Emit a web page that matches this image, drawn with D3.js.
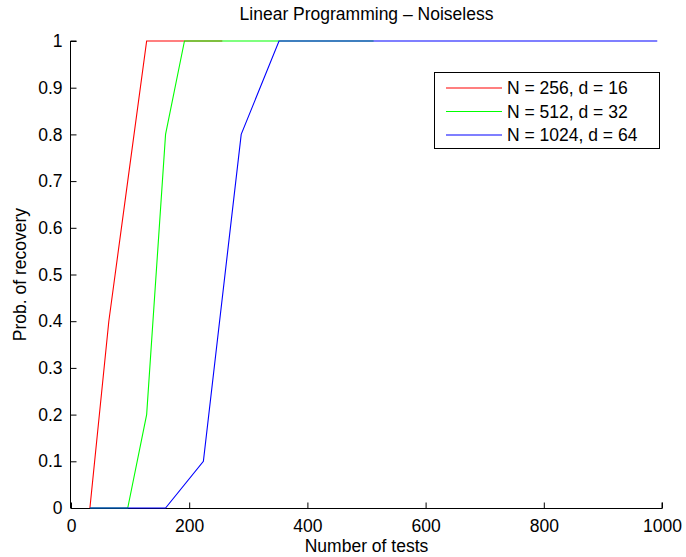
<!DOCTYPE html>
<html>
<head>
<meta charset="utf-8">
<script src="https://cdn.jsdelivr.net/npm/d3@7"></script>
<style>
  html, body { margin: 0; padding: 0; background: #fff; }
  svg { display: block; }
  text { font-family: "Liberation Sans", Arial, Helvetica, sans-serif; fill: #000; }
</style>
</head>
<body>
<svg id="chart" width="686" height="557"></svg>
<script>
// Recovery probability vs. number of tests
const xTicks = [0, 200, 400, 600, 800, 1000];
const yTicks = [0, 0.1, 0.2, 0.3, 0.4, 0.5, 0.6, 0.7, 0.8, 0.9, 1];

const testsA = [32, 64, 96, 128, 160, 192, 224, 256];
const probA  = [0, 0.4, 0.7, 1, 1, 1, 1, 1];

const testsB = [32, 64, 96, 128, 160, 192, 224, 256, 288, 320, 352, 384, 416, 448, 480, 512];
const probB  = [0, 0, 0, 0.2, 0.8, 1, 1, 1, 1, 1, 1, 1, 1, 1, 1, 1];

const testsC = [32, 96, 160, 224, 288, 352, 416, 480, 544, 608, 672, 736, 800, 864, 928, 992];
const probC  = [0, 0, 0, 0.1, 0.8, 1, 1, 1, 1, 1, 1, 1, 1, 1, 1, 1];

const seriesNames = ["N = 256, d = 16", "N = 512, d = 32", "N = 1024, d = 64"];
const seriesColors = ["#ff0000", "#00ff00", "#0000ff"];

const series = [
  { name: seriesNames[0], color: seriesColors[0], x: testsA, y: probA },
  { name: seriesNames[1], color: seriesColors[1], x: testsB, y: probB },
  { name: seriesNames[2], color: seriesColors[2], x: testsC, y: probC }
];

const svg = d3.select("#chart");
const plotL = 71, plotR = 662, plotT = 41, plotB = 508;
const fs = 17.5;

const x = d3.scaleLinear().domain([0, 1000]).range([plotL, plotR]);
const y = d3.scaleLinear().domain([0, 1]).range([plotB, plotT]);

// Axes with inward ticks (no box)
const xAxis = d3.axisBottom(x).tickValues(xTicks).tickSize(-6).tickPadding(11)
  .tickFormat(d3.format("d"));
const yAxis = d3.axisLeft(y).tickValues(yTicks).tickSize(-6).tickPadding(8)
  .tickFormat(d => d3.format("")(d));

const gx = svg.append("g").attr("transform", `translate(0,${plotB + 0.5})`).call(xAxis);
const gy = svg.append("g").attr("transform", `translate(${plotL - 0.5},0)`).call(yAxis);
[gx, gy].forEach(g => {
  g.select(".domain").attr("stroke", "#000").attr("stroke-width", 1);
  g.selectAll(".tick line").attr("stroke", "#000");
  g.selectAll(".tick text").style("font-size", fs + "px").attr("fill", "#000");
});
gx.select(".domain").attr("d", `M${plotL},0H${plotR}V-6`);
gy.select(".domain").attr("d", `M6,${plotT}H0V${plotB}`);

// Lines
const line = d3.line().x(d => x(d[0])).y(d => y(d[1]));
svg.append("g").selectAll("path")
  .data(series)
  .join("path")
  .attr("d", s => line(s.x.map((v, i) => [v, s.y[i]])))
  .attr("fill", "none")
  .attr("stroke", s => s.color)
  .attr("stroke-width", 1.1);

// Title and axis labels
svg.append("text").attr("x", (plotL + plotR) / 2).attr("y", 20)
  .attr("text-anchor", "middle").style("font-size", fs + "px")
  .text("Linear Programming \u2013 Noiseless");
svg.append("text").attr("x", (plotL + plotR) / 2).attr("y", 552)
  .attr("text-anchor", "middle").style("font-size", fs + "px")
  .text("Number of tests");
svg.append("text")
  .attr("transform", `translate(26,${(plotT + plotB) / 2}) rotate(-90)`)
  .attr("text-anchor", "middle").style("font-size", fs + "px")
  .text("Prob. of recovery");

// Legend
const lg = svg.append("g").attr("transform", "translate(434,72)");
lg.append("rect").attr("x", 0.5).attr("y", 0.5).attr("width", 225).attr("height", 76)
  .attr("fill", "#fff").attr("stroke", "#000").attr("stroke-width", 1);
series.forEach((s, i) => {
  const cy = 16 + i * 23.5;
  lg.append("line").attr("x1", 12).attr("x2", 68).attr("y1", cy).attr("y2", cy)
    .attr("stroke", s.color).attr("stroke-width", 1.1);
  lg.append("text").attr("x", 73).attr("y", cy).attr("dy", "0.35em")
    .style("font-size", fs + "px").text(s.name);
});
</script>
</body>
</html>
